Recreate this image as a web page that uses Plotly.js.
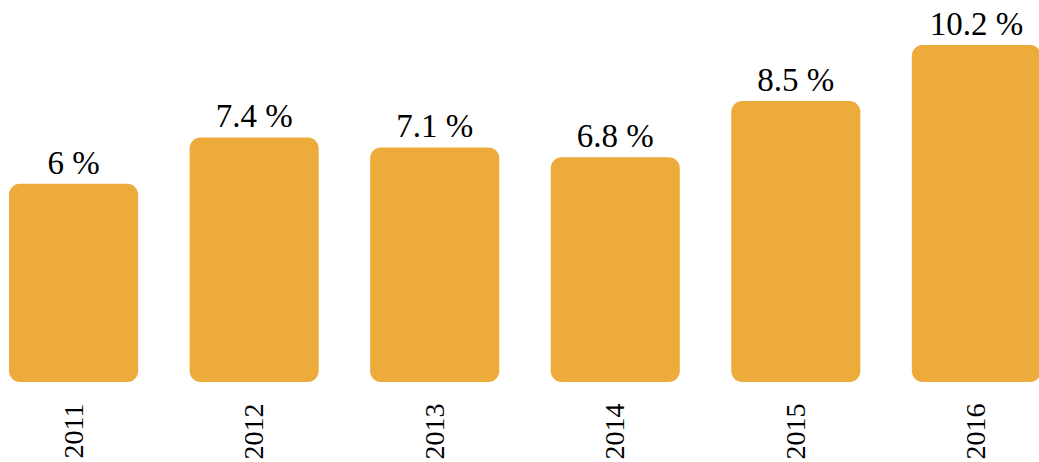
<!DOCTYPE html>
<html><head><meta charset="utf-8">
<script src="https://cdn.plot.ly/plotly-3.0.1.min.js"></script>
<style>html,body{margin:0;padding:0;background:#fff}#chart{width:1039px;height:462px}</style>
</head><body><div id="chart"></div>
<script>
const years = ['2011','2012','2013','2014','2015','2016'];
const shares = [6, 7.4, 7.1, 6.8, 8.5, 10.2];
const labels = shares.map(v => v + ' %');

const barColor = '#EDAB3B';
const serif = 'Liberation Serif';
const bars = {
  type: 'bar', x: years, y: shares,
  base: shares.map(() => 0),
  marker: {color: barColor, cornerradius: 11, line: {width: 0}},
  width: 0.715, showlegend: false,
  text: labels, textposition: 'outside', cliponaxis: false,
  textfont: {family: serif, size: 33, color: '#000'}
};
const layout = {
  margin: {l: 0, r: 0, t: 0, b: 80},
  paper_bgcolor: '#fff', plot_bgcolor: '#fff',
  font: {family: serif},
  xaxis: {type: 'category', range: [-0.4076, 5.3468], tickangle: -90, ticks: '', ticklabelstandoff: 15,
    showline: false, showgrid: false, zeroline: false,
    tickfont: {family: serif, size: 28, color: '#000'}},
  yaxis: {range: [0, 11.56], visible: false, showgrid: false, zeroline: false}
};
Plotly.newPlot('chart', [bars], layout, {displayModeBar: false, staticPlot: true});
</script></body></html>
